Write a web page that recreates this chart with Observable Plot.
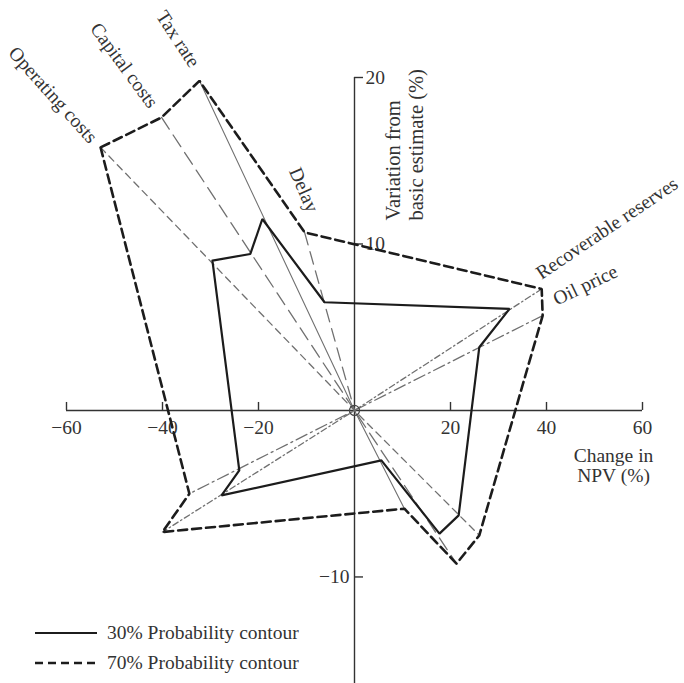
<!DOCTYPE html>
<html><head><meta charset="utf-8">
<script src="https://cdn.jsdelivr.net/npm/d3@7"></script>
<script src="https://cdn.jsdelivr.net/npm/@observablehq/plot@0.6"></script>
<style>
html,body{margin:0;padding:0;background:#fff;}
#wrap{position:relative;width:684px;height:683px;overflow:hidden;font-family:"Liberation Serif","DejaVu Serif",serif;}
#legend{position:absolute;left:35px;top:618px;font-size:19.5px;color:#333;}
.row{display:flex;align-items:center;height:30px;white-space:nowrap;}
.row svg{margin-right:10px;}
</style></head><body><div id="wrap"><div id="chart"></div><div id="legend"></div></div>
<script>
// ---- data (Change in NPV %, Variation from basic estimate %) ----
const variables = ["Operating costs", "Capital costs", "Tax rate", "Delay", "Recoverable reserves", "Oil price"];
// where each variable's line meets the 70% contour, positive-variation side
const pos70Npv = [-52.9, -40.2, -32.3, -10.4, 39.0, 39.2];
const pos70Var = [15.8, 17.6, 19.8, 10.7, 7.3, 5.7];
// negative-variation side (Delay has none)
const neg70Npv = [26.0, 21.25, 10.4, null, -40.0, -34.4];
const neg70Var = [-7.5, -9.2, -5.9, null, -7.3, -5.0];
// 30% contour
const pos30Npv = [-29.6, -21.7, -19.2, -6.25, 32.3, 26.0];
const pos30Var = [9.0, 9.4, 11.5, 6.5, 6.1, 3.8];
const neg30Npv = [21.7, 17.7, 5.6, null, -27.7, -24.0];
const neg30Var = [-6.3, -7.4, -3.0, null, -5.1, -3.6];
// order in which the contours visit the variable lines
const contourOrder = [["Operating costs", "+"], ["Oil price", "-"], ["Recoverable reserves", "-"], ["Tax rate", "-"],
  ["Capital costs", "-"], ["Operating costs", "-"], ["Oil price", "+"], ["Recoverable reserves", "+"],
  ["Delay", "+"], ["Tax rate", "+"], ["Capital costs", "+"], ["Operating costs", "+"]];
const origin = [0, 0];
const xTicks = [-60, -40, -20, 20, 40, 60];
const yTicks = [20, 10, -10];
const contours = ["30% Probability contour", "70% Probability contour"];

// ---- layout ----
const W = 684, H = 683;
const xDomain = [-60, 60], yDomain = [-16.4, 20];
const mL = 66, mR = 42, mT = 77, mB = 0;
const kx = (W - mL - mR) / (xDomain[1] - xDomain[0]);
const ky = (H - mT - mB) / (yDomain[1] - yDomain[0]);
const FS = 19.5;

const idx = v => variables.indexOf(v);
function pt(level, v, side) {
  const i = idx(v);
  if (level === 70) return side === "+" ? [pos70Npv[i], pos70Var[i]] : [neg70Npv[i], neg70Var[i]];
  return side === "+" ? [pos30Npv[i], pos30Var[i]] : [neg30Npv[i], neg30Var[i]];
}
const contour70 = contourOrder.map(([v, s]) => pt(70, v, s));
const contour30 = contourOrder.map(([v, s]) => pt(30, v, s));

const spiderStyle = {
  "Operating costs": {dash: "7,5", w: 1.3},
  "Capital costs": {dash: "14,7", w: 1.3},
  "Tax rate": {dash: null, w: 1.1},
  "Delay": {dash: "13,7", w: 1.3},
  "Recoverable reserves": {dash: "6,3,1.5,3", w: 1.3},
  "Oil price": {dash: "12,4,2,4", w: 1.3}
};
const labelPlace = {
  "Operating costs": {gap: 10, ox: 0, oy: 0, turn: 2},
  "Capital costs": {gap: 14, ox: 0, oy: 0, turn: -3},
  "Tax rate": {gap: 17, ox: 3, oy: 0, turn: -8},
  "Delay": {gap: 20, ox: 14, oy: -2, turn: -8},
  "Recoverable reserves": {gap: 4, ox: -7, oy: -12, turn: -1},
  "Oil price": {gap: 12, ox: 1, oy: -10, turn: 1}
};

const gray = "#707070", ink = "#1c1c1c", txt = "#333";
const marks = [];
// axes
marks.push(Plot.ruleY([0], {x1: xDomain[0], x2: xDomain[1], stroke: "#333", strokeWidth: 1.4}));
marks.push(Plot.ruleX([0], {y1: yDomain[0], y2: yDomain[1], stroke: "#333", strokeWidth: 1.4}));
marks.push(Plot.ruleX(xTicks, {x: d => d, y1: 0, y2: 8 / ky, stroke: "#333", strokeWidth: 1.4}));
marks.push(Plot.ruleY(yTicks, {y: d => d, x1: 0, x2: 9 / kx, stroke: "#333", strokeWidth: 1.4}));
marks.push(Plot.text(xTicks, {x: d => d, y: 0, text: d => d < 0 ? "\u2212" + Math.abs(d) : String(d), dy: 17, lineAnchor: "middle", fill: txt, fontSize: FS}));
marks.push(Plot.text(yTicks.filter(d => d > 0), {x: 0, y: d => d, text: d => String(d), dx: 11, textAnchor: "start", lineAnchor: "middle", fill: txt, fontSize: FS}));
marks.push(Plot.text(yTicks.filter(d => d < 0), {x: 0, y: d => d, text: d => "\u2212" + Math.abs(d), dx: -5, textAnchor: "end", lineAnchor: "middle", fill: txt, fontSize: FS}));
// spider lines
variables.forEach((v, i) => {
  const pts = [[pos70Npv[i], pos70Var[i]], origin];
  if (neg70Npv[i] != null) pts.push([neg70Npv[i], neg70Var[i]]);
  const s = spiderStyle[v];
  marks.push(Plot.line(pts, {x: d => d[0], y: d => d[1], stroke: gray, strokeWidth: s.w, strokeDasharray: s.dash || undefined}));
});
marks.push(Plot.dot([origin], {x: d => d[0], y: d => d[1], r: 5, stroke: "#444", strokeWidth: 1.2, fill: "none"}));
// contours
marks.push(Plot.line(contour30, {x: d => d[0], y: d => d[1], stroke: ink, strokeWidth: 2.2, strokeLinejoin: "miter"}));
marks.push(Plot.line(contour70, {x: d => d[0], y: d => d[1], stroke: ink, strokeWidth: 2.6, strokeDasharray: "9,5", strokeLinejoin: "miter"}));
// variable labels
variables.forEach((v, i) => {
  const ex = pos70Npv[i], ey = pos70Var[i];
  const px = ex * kx, py = -ey * ky, len = Math.hypot(px, py);
  const ux = px / len, uy = py / len;
  const p = labelPlace[v];
  const left = ex < 0;
  const ang = (left ? Math.atan2(-uy, -ux) : Math.atan2(uy, ux)) * 180 / Math.PI + p.turn;
  marks.push(Plot.text([v], {x: ex, y: ey, text: d => d, rotate: ang,
    dx: ux * p.gap + p.ox, dy: uy * p.gap + p.oy,
    textAnchor: left ? "end" : "start", lineAnchor: "middle", fill: txt, fontSize: FS}));
});
// axis titles
marks.push(Plot.text(["Change in\nNPV (%)"], {frameAnchor: "right", text: d => d, dx: -29, dy: 85, textAnchor: "middle", lineAnchor: "middle", lineHeight: 1.0, fill: txt, fontSize: FS}));
marks.push(Plot.text(["Variation from\nbasic estimate (%)"], {frameAnchor: "top", text: d => d, dx: 49.5, dy: 143, rotate: -90, textAnchor: "start", lineAnchor: "middle", lineHeight: 1.15, fill: txt, fontSize: 20.5}));

const chart = Plot.plot({
  width: W, height: H,
  marginLeft: mL, marginRight: mR, marginTop: mT, marginBottom: mB,
  x: {domain: xDomain, axis: null},
  y: {domain: yDomain, axis: null},
  style: {fontFamily: "'Liberation Serif', 'DejaVu Serif', serif", background: "#fff", overflow: "visible"},
  marks
});
document.getElementById("chart").appendChild(chart);

// legend
const legend = document.getElementById("legend");
contours.forEach((c, i) => {
  const row = document.createElement("div");
  row.className = "row";
  const dash = i === 0 ? "" : ' stroke-dasharray="8,5"';
  const sw = i === 0 ? 2.2 : 2.6;
  row.innerHTML = `<svg width="62" height="10"><line x1="0" y1="5" x2="62" y2="5" stroke="${ink}" stroke-width="${sw}"${dash}/></svg><span>${c}</span>`;
  legend.appendChild(row);
});
</script></body></html>
